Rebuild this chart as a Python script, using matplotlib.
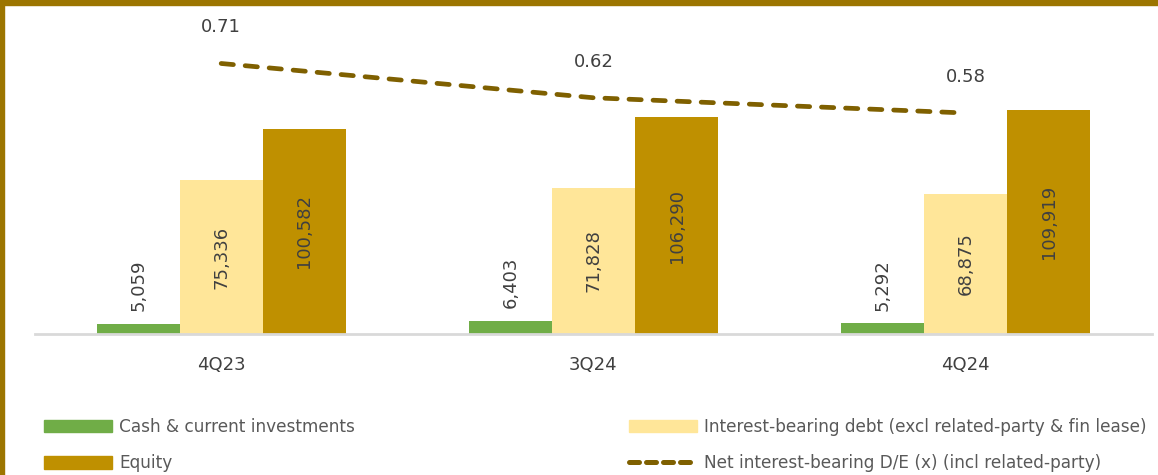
import matplotlib.pyplot as plt
import numpy as np
from matplotlib.lines import Line2D
from matplotlib.patches import Patch, Rectangle

quarters = ["4Q23", "3Q24", "4Q24"]
cash = [5059, 6403, 5292]
debt = [75336, 71828, 68875]
equity = [100582, 106290, 109919]
net_de = [0.71, 0.62, 0.58]

GREEN = "#70ad47"
LIGHT = "#ffe699"
GOLD = "#bf9000"
OLIVE = "#7f6000"
BORDER = "#9c7500"
TEXT = "#404040"


def main() -> None:
    fig = plt.figure(figsize=(11.58, 4.75), dpi=100)
    ax = fig.add_axes([35 / 1158, 141 / 475, 1117 / 1158, 329 / 475])

    x = np.arange(len(quarters))
    w = 0.223
    b1 = ax.bar(x - w, cash, w, color=GREEN)
    b2 = ax.bar(x, debt, w, color=LIGHT)
    b3 = ax.bar(x + w, equity, w, color=GOLD)

    ax.set_xlim(-0.5, 2.5)
    ax.set_ylim(0, 161400)

    for rect, v in zip(b1, cash):
        ax.annotate(f"{v:,}", (rect.get_x() + rect.get_width() / 2, v),
                    xytext=(0, 9), textcoords="offset points",
                    rotation=90, ha="center", va="bottom",
                    fontsize=13, color=TEXT)
    for bars, vals in ((b2, debt), (b3, equity)):
        for rect, v in zip(bars, vals):
            ax.text(rect.get_x() + rect.get_width() / 2, v / 2, f"{v:,}",
                    rotation=90, ha="center", va="center",
                    fontsize=13, color=TEXT)

    for s in ("top", "right", "left"):
        ax.spines[s].set_visible(False)
    ax.spines["bottom"].set_color("#d9d9d9")
    ax.spines["bottom"].set_linewidth(2)
    ax.set_yticks([])
    ax.set_xticks(x)
    ax.set_xticklabels(quarters, fontsize=13, color=TEXT)
    ax.tick_params(axis="x", length=0, pad=16)

    ax2 = ax.twinx()
    ax2.set_ylim(0, 0.8635)
    ax2.plot(x, net_de, color=OLIVE, lw=3.4, dashes=(2.6, 2.5),
             dash_capstyle="round")
    for xi, v in zip(x, net_de):
        ax2.annotate(f"{v:.2f}", (xi, v), xytext=(0, 26),
                     textcoords="offset points", ha="center", va="center",
                     fontsize=13, color=TEXT)
    ax2.axis("off")

    # frame strips along the top and left edges
    fig.patches.append(Rectangle((0, 1 - 5 / 475), 1, 5 / 475,
                                 transform=fig.transFigure, color=BORDER))
    fig.patches.append(Rectangle((0, 0), 4 / 1158, 1,
                                 transform=fig.transFigure, color=BORDER))

    handles = [
        Patch(color=GREEN, label="Cash & current investments"),
        Patch(color=GOLD, label="Equity"),
        Patch(color=LIGHT,
              label="Interest-bearing debt (excl related-party & fin lease)"),
        Line2D([], [], color=OLIVE, lw=3.6, dashes=(2.0, 1.4),
               dash_capstyle="round",
               label="Net interest-bearing D/E (x) (incl related-party)"),
    ]
    leg = fig.legend(handles=handles, ncol=2, loc="upper left",
                     bbox_to_anchor=(44 / 1158, 1 - 418 / 475),
                     frameon=False, fontsize=12.2, handlelength=4.0,
                     handleheight=0.78, handletextpad=0.42,
                     columnspacing=16.2, labelspacing=1.08,
                     borderpad=0, borderaxespad=0)
    for t in leg.get_texts():
        t.set_color("#595959")

    fig.savefig("out.png", dpi=100)


if __name__ == "__main__":
    main()
